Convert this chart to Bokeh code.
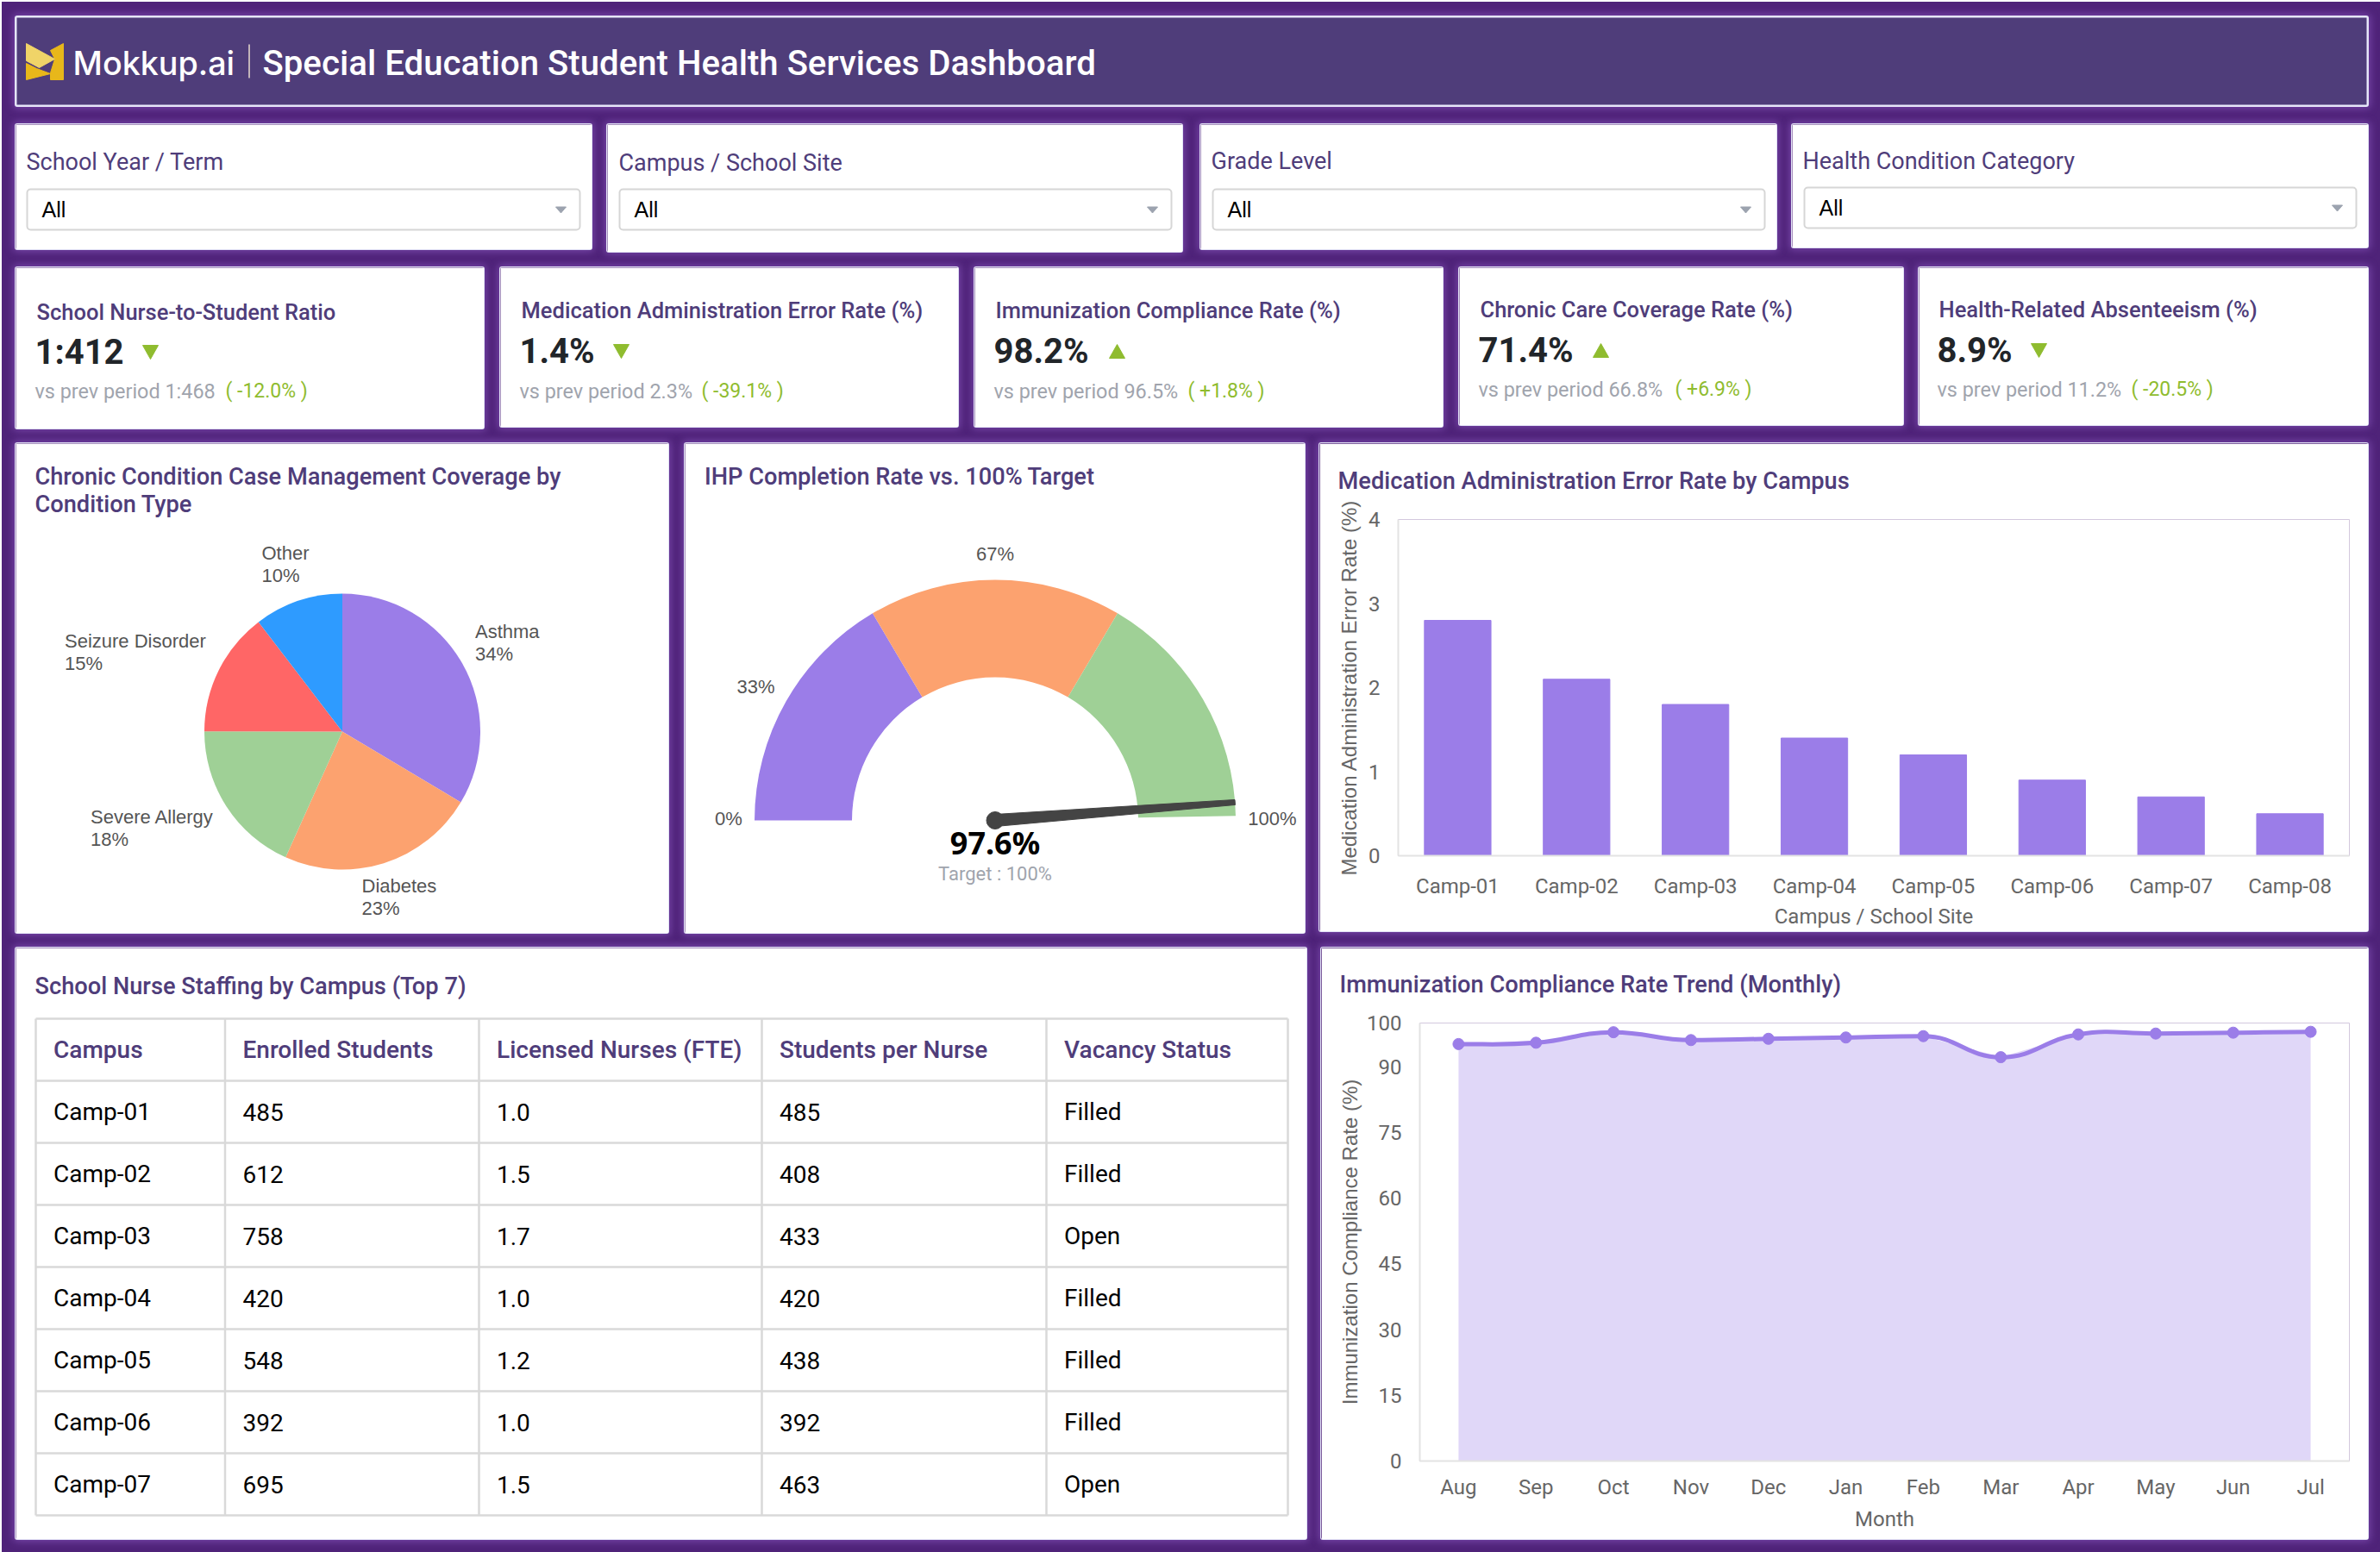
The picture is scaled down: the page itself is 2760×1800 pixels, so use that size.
import math
import numpy as np
from bokeh.core.properties import value
from bokeh.embed import file_html
from bokeh.resources import INLINE
from bokeh.plotting import figure
from bokeh.models import Range1d, FactorRange, FixedTicker, Column, Row

# ---------- data ----------
filter_labels = ["School Year / Term", "Campus / School Site", "Grade Level", "Health Condition Category"]
filter_values = ["All", "All", "All", "All"]

kpi_titles = ["School Nurse-to-Student Ratio", "Medication Administration Error Rate (%)",
              "Immunization Compliance Rate (%)", "Chronic Care Coverage Rate (%)",
              "Health-Related Absenteeism (%)"]
kpi_values = ["1:412", "1.4%", "98.2%", "71.4%", "8.9%"]
kpi_prev = ["vs prev period 1:468", "vs prev period 2.3%", "vs prev period 96.5%",
            "vs prev period 66.8%", "vs prev period 11.2%"]
kpi_delta = ["( -12.0% )", "( -39.1% )", "( +1.8% )", "( +6.9% )", "( -20.5% )"]
kpi_dir = [-1, -1, 1, 1, -1]

pie_labels = ["Asthma", "Diabetes", "Severe Allergy", "Seizure Disorder", "Other"]
pie_values = [33.6, 23.2, 18.3, 14.6, 10.4]
pie_colors = ["#9b7de8", "#fca26f", "#9fd096", "#ff6666", "#2e9bff"]

gauge_stops = [0, 33, 67, 99.4]
gauge_colors = ["#9b7de8", "#fca26f", "#9fd096"]
gauge_ticks = ["0%", "33%", "67%", "100%"]
gauge_value = 97.6

campus_bar = ["Camp-01", "Camp-02", "Camp-03", "Camp-04", "Camp-05", "Camp-06", "Camp-07", "Camp-08"]
error_rate = [2.8, 2.1, 1.8, 1.4, 1.2, 0.9, 0.7, 0.5]

table_cols = ["Campus", "Enrolled Students", "Licensed Nurses (FTE)", "Students per Nurse", "Vacancy Status"]
t_campus = ["Camp-01", "Camp-02", "Camp-03", "Camp-04", "Camp-05", "Camp-06", "Camp-07"]
t_enrolled = ["485", "612", "758", "420", "548", "392", "695"]
t_nurses = ["1.0", "1.5", "1.7", "1.0", "1.2", "1.0", "1.5"]
t_ratio = ["485", "408", "433", "420", "438", "392", "463"]
t_vacancy = ["Filled", "Filled", "Open", "Filled", "Filled", "Filled", "Open"]

months = ["Aug", "Sep", "Oct", "Nov", "Dec", "Jan", "Feb", "Mar", "Apr", "May", "Jun", "Jul"]
immun_rate = [95.2, 95.5, 97.9, 96.1, 96.4, 96.7, 97.0, 92.2, 97.4, 97.6, 97.8, 98.0]

# ---------- style ----------
BG = "#4f2379"
HEAD = "#4f3d7a"
PURPLE = "#9b7de8"
GREEN = "#8fbc2f"
AX = "#666666"
MED = "Roboto Medium"
SHADOW = "0 0 0 1px #e2e2f6, 0 0 9px 3px #7444a6"
TITLE_SIZE = 27.2

ORIGIN = (2, 2)
ROOT_W, ROOT_H = 2758, 1798

header_box = (18, 19, 2746, 123)
filter_boxes = [(18, 144, 686, 289), (704, 144, 1371, 292), (1392, 144, 2060, 289), (2078, 144, 2746, 287)]
filter_label_xy = [(30, 187), (717, 188), (1404, 186), (2090, 186)]
filter_select = [(30, 218, 673, 267), (717, 218, 1359, 267), (1405, 218, 2047, 267), (2091, 216, 2733, 265)]
kpi_boxes = [(18, 310, 561, 497), (580, 310, 1111, 495), (1130, 310, 1673, 495), (1692, 310, 2207, 493), (2225, 310, 2746, 493)]
kpi_text_x = [42, 604, 1154, 1716, 2248]
kpi_title_y = [361, 359, 359, 358, 358]
kpi_value_y = [408, 407, 407, 406, 406]
kpi_sub_y = [453, 453, 453, 451, 451]
kpi_delta_x = [261, 813, 1377, 1942, 2471]
kpi_arrow_x = [174, 720, 1295, 1856, 2364]
pie_box = (18, 514, 775, 1082)
gauge_box = (794, 514, 1513, 1082)
bar_box = (1530, 514, 2746, 1080)
table_box = (18, 1099, 1515, 1785)
trend_box = (1532, 1099, 2746, 1785)


def card(box, bg="white"):
    x0, y0, x1, y1 = box
    p = figure(width=x1 - x0, height=y1 - y0, output_backend="svg", toolbar_location=None,
               x_range=Range1d(x0, x1), y_range=Range1d(-y1, -y0),
               x_axis_location=None, y_axis_location=None,
               min_border=0, outline_line_color=None, frame_align=False,
               background_fill_color=bg, border_fill_color=bg,
               styles={"box-shadow": SHADOW, "border-radius": "2px"})
    p.xgrid.visible = False
    p.ygrid.visible = False
    return p


def txt(p, x, y, s, size, color="#000000", font="Roboto", style="normal", align="left"):
    p.text([x], [-y], text=[s], text_font=value(font), text_font_size=f"{size}px", text_color=color,
           text_font_style=style, text_align=align, text_baseline="middle")


def chart_title(p, s, offset, standoff):
    p.title.text = s
    p.title.text_font = MED
    p.title.text_font_style = "normal"
    p.title.text_font_size = f"{TITLE_SIZE}px"
    p.title.text_color = HEAD
    p.title.align = "left"
    p.title.vertical_align = "top"
    p.title.offset = offset
    p.title.standoff = standoff


# ---------- header ----------
hdr = card(header_box, HEAD)
hdr.outline_line_color = "#e8e8fa"
hdr.outline_line_width = 2
logo_dark = [[(58, 58), (73, 50), (73, 92), (58, 92), (58, 84), (63, 68)],
             [(30, 73), (42, 79), (58, 85), (30, 92)]]
logo_light = [[(30, 50), (63, 68), (45, 78), (30, 70)]]
hdr.patches([[a for a, _ in poly] for poly in logo_dark], [[-b for _, b in poly] for poly in logo_dark], color="#e8b71a")
hdr.patches([[a for a, _ in poly] for poly in logo_light], [[-b for _, b in poly] for poly in logo_light], color="#f0d468")
txt(hdr, 84, 72, "Mokkup.ai", 37.7, "white", "Inter Medium")
hdr.segment([288.5], [-51], [288.5], [-90], line_color="#e8dccf", line_width=1.5)
txt(hdr, 304, 72.5, "Special Education Student Health Services Dashboard", 40.15, "white", MED)

# ---------- filters ----------
filters = []
for i, box in enumerate(filter_boxes):
    p = card(box)
    lx, ly = filter_label_xy[i]
    txt(p, lx, ly, filter_labels[i], 27, HEAD)
    sx0, sy0, sx1, sy1 = filter_select[i]
    p.quad(left=[sx0 + 1], right=[sx1 - 1], top=[-sy0 - 1], bottom=[-sy1 + 1], fill_color="white",
           line_color="#d6d6d6", line_width=2, border_radius=4)
    midy = (sy0 + sy1) / 2
    txt(p, sx0 + 18, midy, filter_values[i], 25, "#000000", "Liberation Sans")
    p.patch([sx1 - 29, sx1 - 17, sx1 - 23], [-midy + 3, -midy + 3, -midy - 4], color="#9ca3af")
    filters.append(p)

# ---------- KPI cards ----------
kpis = []
for i, box in enumerate(kpi_boxes):
    p = card(box)
    x = kpi_text_x[i]
    txt(p, x, kpi_title_y[i], kpi_titles[i], 25.5, HEAD, MED)
    txt(p, x - 2, kpi_value_y[i], kpi_values[i], 40, "#212529", "Roboto", "bold")
    ax = kpi_arrow_x[i]
    vy = kpi_value_y[i]
    h = 8 * kpi_dir[i]
    p.patch([ax - 9, ax + 9, ax], [-vy - h, -vy - h, -vy + h], color=GREEN)
    txt(p, x - 2, kpi_sub_y[i], kpi_prev[i], 23.4, "#a0a4ad")
    txt(p, kpi_delta_x[i], kpi_sub_y[i], kpi_delta[i], 23, GREEN)
    kpis.append(p)

# ---------- pie ----------
pie = card(pie_box)
txt(pie, 40, 552, "Chronic Condition Case Management Coverage by", TITLE_SIZE, HEAD, MED)
txt(pie, 40, 584, "Condition Type", TITLE_SIZE, HEAD, MED)
pie_cx, pie_cy, pie_r = 396.5, 848, 160
edges = np.concatenate([[0], np.cumsum(pie_values)]) / np.sum(pie_values) * 2 * math.pi
pie.wedge(x=[pie_cx] * len(pie_values), y=[-pie_cy] * len(pie_values), radius=pie_r,
          start_angle=list(math.pi / 2 - edges[:-1]), end_angle=list(math.pi / 2 - edges[1:]),
          direction="clock", fill_color=pie_colors, line_color=None)
pie_label_xy = [(550.5, 731.5), (419, 1027), (104.5, 946.5), (74.5, 742.5), (303, 641)]
for (x, y), lab, val in zip(pie_label_xy, pie_labels, pie_values):
    txt(pie, x, y, lab, 22, "#555555", "Liberation Sans")
    txt(pie, x, y + 26, f"{val:.0f}%", 22, "#555555", "Liberation Sans")

# ---------- gauge ----------
gauge = card(gauge_box)
txt(gauge, 816.5, 552, "IHP Completion Rate vs. 100% Target", TITLE_SIZE, HEAD, MED)
gx, gy, g_out, g_in = 1153.5, 951, 279, 166
g_ang = [math.pi * (1 - s / 100) for s in gauge_stops]
gauge.annular_wedge(x=[gx] * 3, y=[-gy] * 3, inner_radius=g_in, outer_radius=g_out,
                    start_angle=g_ang[:-1], end_angle=g_ang[1:], direction="clock",
                    fill_color=gauge_colors, line_color=None)
theta = math.pi * (1 - gauge_value / 100)
dx, dy = math.cos(theta), math.sin(theta)
nx, ny = -dy, dx
n_len = g_out
needle_x = [gx + nx * 7, gx + dx * n_len + nx * 3, gx + dx * n_len - nx * 3, gx - nx * 7]
needle_y = [-gy + ny * 7, -gy + dy * n_len + ny * 3, -gy + dy * n_len - ny * 3, -gy - ny * 7]
gauge.patch(needle_x, needle_y, color="#444444")
gauge.scatter([gx], [-gy], size=20, color="#444444")
gauge_tick_xy = [(844.5, 948.5), (876, 795.5), (1153.5, 642), (1475, 948.5)]
for (x, y), lab in zip(gauge_tick_xy, gauge_ticks):
    txt(gauge, x, y, lab, 22, "#555555", "Liberation Sans", align="center")
txt(gauge, 1153.5, 977, f"{gauge_value}%", 36, "#000000", "Noto Sans", "bold", "center")
txt(gauge, 1153.5, 1013, "Target : 100%", 22, "#a0a4ad", "Roboto", align="center")

# ---------- bars ----------
bx0, by0, bx1, by1 = bar_box
bar = figure(width=bx1 - bx0, height=by1 - by0, output_backend="svg", toolbar_location=None,
             x_range=FactorRange(factors=campus_bar, range_padding=0, factor_padding=0),
             y_range=Range1d(0, 4), frame_align=False,
             min_border_left=91, min_border_right=22, min_border_top=87, min_border_bottom=88,
             outline_line_color=None, background_fill_color="white", border_fill_color="white",
             styles={"box-shadow": SHADOW, "border-radius": "2px"})
bar.vbar(x=campus_bar, top=error_rate, width=0.56, color=PURPLE)
bar.xgrid.visible = False
bar.ygrid.visible = False
chart_title(bar, "Medication Administration Error Rate by Campus", -70, 54)


def style_axes(p, xlabel, ylabel, yticks, x_standoff, y_standoff, xl_standoff, yl_standoff):
    for ax in (p.xaxis[0], p.yaxis[0]):
        ax.major_tick_line_color = None
        ax.minor_tick_line_color = None
        ax.axis_line_color = "#e3e3e3"
        ax.axis_line_width = 2
        ax.major_label_text_font = "Roboto"
        ax.major_label_text_font_size = "24px"
        ax.major_label_text_color = AX
    p.xaxis[0].major_label_standoff = x_standoff
    p.yaxis[0].major_label_standoff = y_standoff
    p.yaxis[0].ticker = FixedTicker(ticks=yticks)
    p.xaxis[0].axis_label = xlabel
    p.xaxis[0].axis_label_text_font = "Roboto"
    p.xaxis[0].axis_label_text_font_size = "24px"
    p.xaxis[0].axis_label_text_font_style = "normal"
    p.xaxis[0].axis_label_text_color = AX
    p.xaxis[0].axis_label_standoff = xl_standoff
    p.yaxis[0].axis_label = ylabel
    p.yaxis[0].axis_label_text_font = "Liberation Sans"
    p.yaxis[0].axis_label_text_font_size = "24px"
    p.yaxis[0].axis_label_text_font_style = "normal"
    p.yaxis[0].axis_label_text_color = AX
    p.yaxis[0].axis_label_standoff = yl_standoff


style_axes(bar, "Campus / School Site", "Medication Administration Error Rate (%)", [0, 1, 2, 3, 4], 15, 15, 4, 6)

# ---------- table ----------
tbl = card(table_box)
txt(tbl, 40, 1143, "School Nurse Staffing by Campus (Top 7)", TITLE_SIZE, HEAD, MED)
col_edges = [41, 260.5, 555, 883, 1213, 1493]
row_top, row_h = 1181, 72
n_rows = len(t_campus) + 1
tbl.segment(col_edges[0], [-(row_top + k * row_h) for k in range(n_rows + 1)],
            col_edges[-1], [-(row_top + k * row_h) for k in range(n_rows + 1)],
            line_color="#d9d9d9", line_width=2.5)
tbl.segment(col_edges, -row_top, col_edges, -(row_top + n_rows * row_h), line_color="#d9d9d9", line_width=2.5)
columns = [t_campus, t_enrolled, t_nurses, t_ratio, t_vacancy]
for c, (name, vals) in enumerate(zip(table_cols, columns)):
    x = col_edges[c] + 20.5
    txt(tbl, x, row_top + row_h / 2, name, 28, HEAD, MED)
    for r, v in enumerate(vals):
        txt(tbl, x, row_top + row_h * (r + 1.5), v, 28, "#000000")

# ---------- trend ----------
tx0, ty0, tx1, ty1 = trend_box
trend = figure(width=tx1 - tx0, height=ty1 - ty0, output_backend="svg", toolbar_location=None,
               x_range=Range1d(0, len(months)), y_range=Range1d(0, 100), frame_align=False,
               min_border_left=114, min_border_right=22, min_border_top=86, min_border_bottom=91,
               outline_line_color=None, background_fill_color="white", border_fill_color="white",
               styles={"box-shadow": SHADOW, "border-radius": "2px"})
trend.xgrid.visible = False
trend.ygrid.visible = False
mx = np.arange(len(months)) + 0.5
vals = np.array(immun_rate)
slopes = np.zeros(len(vals))
for i in range(1, len(vals) - 1):
    a, b = vals[i] - vals[i - 1], vals[i + 1] - vals[i]
    slopes[i] = 0 if a * b <= 0 else (a + b) / 2
k = 0.45
trend.varea(x=mx, y1=0, y2=vals, color=PURPLE, alpha=0.31)
trend.bezier(x0=mx[:-1], y0=vals[:-1], x1=mx[1:], y1=vals[1:],
             cx0=mx[:-1] + k, cy0=vals[:-1] + slopes[:-1] * k,
             cx1=mx[1:] - k, cy1=vals[1:] - slopes[1:] * k,
             line_color=PURPLE, line_width=5)
trend.scatter(mx, vals, size=13, color=PURPLE)
chart_title(trend, "Immunization Compliance Rate Trend (Monthly)", -93, 53)
style_axes(trend, "Month", "Immunization Compliance Rate (%)", [0, 15, 30, 45, 60, 75, 90, 100], 10, 15, 6, 3)
trend.xaxis[0].ticker = FixedTicker(ticks=list(mx))
trend.xaxis[0].major_label_overrides = {float(x): m for x, m in zip(mx, months)}


# ---------- page layout ----------
def make_row(figs, boxes, prev_bottom):
    top = min(b[1] for b in boxes)
    prev_x = ORIGIN[0]
    for f, b in zip(figs, boxes):
        f.margin = (b[1] - top, 0, 0, b[0] - prev_x)
        prev_x = b[2]
    return Row(children=figs, spacing=0, margin=(top - prev_bottom, 0, 0, 0)), max(b[3] for b in boxes)


rows = []
bottom = ORIGIN[1]
for figs, boxes in [([hdr], [header_box]),
                    (filters, filter_boxes),
                    (kpis, kpi_boxes),
                    ([pie, gauge, bar], [pie_box, gauge_box, bar_box]),
                    ([tbl, trend], [table_box, trend_box])]:
    r, bottom = make_row(figs, boxes, bottom)
    rows.append(r)

root = Column(children=rows, spacing=0, width=ROOT_W, height=ROOT_H,
              styles={"background-color": BG, "position": "fixed", "left": "2px", "top": "2px"})

open("out.html", "w").write(file_html(root, INLINE))
